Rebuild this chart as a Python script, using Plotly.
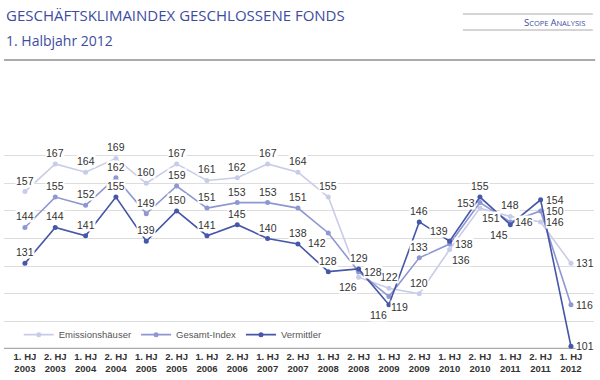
import plotly.graph_objects as go

categories = ["1. HJ<br>2003", "2. HJ<br>2003", "1. HJ<br>2004", "2. HJ<br>2004", "1. HJ<br>2005",
              "2. HJ<br>2005", "1. HJ<br>2006", "2. HJ<br>2006", "1. HJ<br>2007", "2. HJ<br>2007",
              "1. HJ<br>2008", "2. HJ<br>2008", "1. HJ<br>2009", "2. HJ<br>2009", "1. HJ<br>2010",
              "2. HJ<br>2010", "1. HJ<br>2011", "2. HJ<br>2011", "1. HJ<br>2012"]
emission = [157, 167, 164, 169, 160, 167, 161, 162, 167, 164, 155, 126, 122, 120, 136, 151, 148, 146, 131]
gesamt = [144, 155, 152, 162, 149, 159, 151, 153, 153, 151, 142, 128, 119, 133, 138, 153, 146, 150, 116]
vermittler = [131, 144, 141, 155, 139, 150, 141, 145, 140, 138, 128, 129, 116, 146, 139, 155, 145, 154, 101]
series_names = ["Emissionshäuser", "Gesamt-Index", "Vermittler"]

# label placement (style)
pos_em = ["a"] * 11 + ["bl", "a", "a", "br", "br", "a", "r", "r"]
pos_ge = ["a"] * 10 + ["bl", "r", "br", "a", "r", "l", "r", "r", "r"]
pos_ve = ["a"] * 12 + ["bl", "a", "al", "a", "bl", "r", "r"]
colors = ["#c9cce9", "#8f97d2", "#4657a8"]

fig = go.Figure()
xs = list(range(len(categories)))
for name, vals, col in zip(series_names, [emission, gesamt, vermittler], colors):
    fig.add_trace(go.Scatter(x=xs, y=vals, name=name, mode="lines+markers",
                             line=dict(color=col, width=1.6),
                             marker=dict(color=col, size=5)))

anchor = {
    "a": dict(xanchor="center", yanchor="bottom", xshift=0, yshift=4),
    "b": dict(xanchor="center", yanchor="top", xshift=0, yshift=-4),
    "r": dict(xanchor="left", yanchor="middle", xshift=4, yshift=0),
    "l": dict(xanchor="right", yanchor="middle", xshift=-4, yshift=0),
    "bl": dict(xanchor="right", yanchor="top", xshift=-1, yshift=-3),
    "br": dict(xanchor="left", yanchor="top", xshift=1, yshift=-3),
    "al": dict(xanchor="right", yanchor="bottom", xshift=-1, yshift=3),
}
annotations = []
for vals, poss in zip([emission, gesamt, vermittler], [pos_em, pos_ge, pos_ve]):
    for i, (v, p) in enumerate(zip(vals, poss)):
        annotations.append(dict(x=i, y=v, xref="x", yref="y", text=str(v), showarrow=False,
                                font=dict(family="Liberation Sans", size=10.5, color="#333333"),
                                bgcolor="white", borderpad=0, **anchor[p]))

blue = "#3d4c9f"
annotations += [
    dict(x=0, y=1.511, xref="paper", yref="paper", xanchor="left", yanchor="middle", showarrow=False,
         text="GESCHÄFTSKLIMAINDEX GESCHLOSSENE FONDS",
         font=dict(family="Open Sans", size=15, color=blue)),
    dict(x=0, y=1.398, xref="paper", yref="paper", xanchor="left", yanchor="middle", showarrow=False,
         text="1. Halbjahr 2012", font=dict(family="Open Sans", size=14, color=blue)),
    dict(x=0.988, y=1.478, xref="paper", yref="paper", xanchor="right", yanchor="middle", showarrow=False,
         text="<span style='font-size:9.5px'>S</span>COPE <span style='font-size:9.5px'>A</span>NALYSIS",
         font=dict(family="Open Sans", size=7.5, color=blue)),
]

shapes = [
    dict(type="line", xref="paper", yref="paper", x0=0, x1=1.002, y0=1.3077, y1=1.3077,
         line=dict(color="#aaaaaa", width=2)),
    dict(type="line", xref="paper", yref="paper", x0=0.778, x1=0.998, y0=1.5158, y1=1.5158,
         line=dict(color="#aaaaaa", width=1)),
    dict(type="line", xref="paper", yref="paper", x0=0.778, x1=0.998, y0=1.4434, y1=1.4434,
         line=dict(color="#aaaaaa", width=1)),
    dict(type="line", xref="paper", yref="y", x0=0, x1=1, y0=100, y1=100,
         line=dict(color="#aaaaaa", width=2.5), layer="below"),
]

fig.update_layout(
    width=600, height=380,
    margin=dict(l=4, r=6, t=128, b=31),
    plot_bgcolor="white", paper_bgcolor="white",
    showlegend=True,
    legend=dict(orientation="h", x=0.025, y=0.065, xanchor="left", yanchor="middle",
                font=dict(family="Liberation Sans", size=9.5, color="#555555"),
                itemwidth=30, bgcolor="rgba(0,0,0,0)"),
    annotations=annotations, shapes=shapes,
    xaxis=dict(tickmode="array", tickvals=xs, ticktext=["<b>" + c + "</b>" for c in categories],
               range=[-0.69, 18.76], showgrid=False, zeroline=False, showline=False,
               tickfont=dict(family="Liberation Sans", size=9.5, color="#333333"), ticks="",
               automargin=False),
    yaxis=dict(range=[100, 180], dtick=10, tick0=100, showticklabels=False, showgrid=True,
               gridcolor="#dddddd", gridwidth=1, zeroline=False, showline=False, automargin=False),
)

fig.write_html("out.html", config={"displayModeBar": False},
               post_script="document.body.style.margin='0';")
